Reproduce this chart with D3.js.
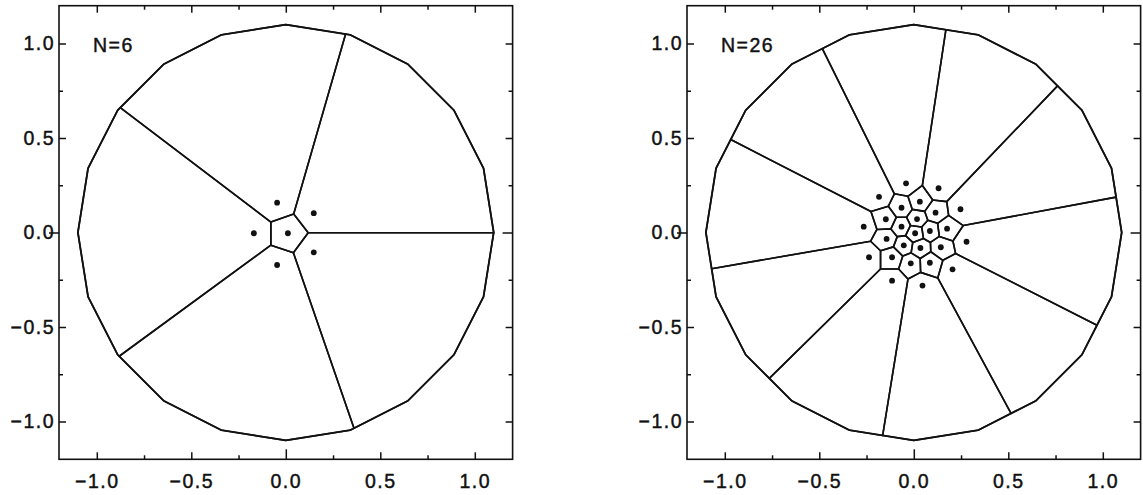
<!DOCTYPE html>
<html>
<head>
<meta charset="utf-8">
<script src="https://cdn.jsdelivr.net/npm/d3@7"></script>
<style>
  html, body { margin: 0; padding: 0; background: #fff; }
  svg { display: block; }
  text { font-family: "Liberation Sans", Arial, sans-serif; font-size: 19.5px; fill: #111; stroke: #111; stroke-width: 0.45px; letter-spacing: 1.5px; }
</style>
</head>
<body>
<svg id="chart" width="1143" height="495"></svg>
<script>
// tick values, same on both axes of both panels
const majorTicks = [-1.0, -0.5, 0.0, 0.5, 1.0];
const minorTicks = [-0.75, -0.25, 0.25, 0.75];
const axisDomain = [-1.2, 1.2];

// the confining boundary: regular 20-gon of radius 1.1
const boundaryRadius = 1.1;
const boundarySides = 20;

const panelLabels = ['N=6', 'N=26'];

// particle positions
const pointsN6 = [
  [-0.046, 0.158], [0.148, 0.102], [-0.169, -0.004],
  [0.011, -0.004], [0.148, -0.105], [-0.046, -0.172]
];

const pointsN26 = [
  // outer ring
  [-0.041, 0.260], [0.131, 0.234], [-0.184, 0.189], [0.247, 0.123], [-0.265, 0.031],
  [0.279, -0.049], [-0.237, -0.131], [0.205, -0.195], [-0.115, -0.255], [0.046, -0.281],
  // inner cluster
  [-0.065, 0.131], [0.032, 0.163], [0.115, 0.105], [-0.148, 0.070], [0.017, 0.071],
  [-0.065, 0.031], [0.176, 0.020], [0.007, -0.004], [0.085, 0.008], [-0.144, -0.034],
  [-0.053, -0.068], [0.035, -0.082], [0.143, -0.078], [-0.115, -0.131], [-0.016, -0.163],
  [0.085, -0.160]
];

var svg = d3.select('#chart');
var fmt = d3.format('.1f');

var boundary = d3.range(boundarySides).map(function(k) {
  var a = 2 * Math.PI * k / boundarySides;
  return [boundaryRadius * Math.cos(a), boundaryRadius * Math.sin(a)];
});

// Sutherland-Hodgman against the convex (ccw) boundary
function intersect(s, e, a, b) {
  var d1x = e[0] - s[0], d1y = e[1] - s[1];
  var d2x = b[0] - a[0], d2y = b[1] - a[1];
  var t = ((a[0] - s[0]) * d2y - (a[1] - s[1]) * d2x) / (d1x * d2y - d1y * d2x);
  return [s[0] + t * d1x, s[1] + t * d1y];
}

function clipPolygon(subject, clip) {
  var output = subject;
  for (var i = 0; i < clip.length && output.length; i++) {
    var a = clip[i], b = clip[(i + 1) % clip.length];
    var inside = function(p) {
      return (b[0] - a[0]) * (p[1] - a[1]) - (b[1] - a[1]) * (p[0] - a[0]) >= 0;
    };
    var input = output;
    output = [];
    var s = input[input.length - 1];
    input.forEach(function(e) {
      if (inside(e)) {
        if (!inside(s)) output.push(intersect(s, e, a, b));
        output.push(e);
      } else if (inside(s)) {
        output.push(intersect(s, e, a, b));
      }
      s = e;
    });
  }
  return output;
}

function drawPanel(left, top, size, points, label) {
  var x = d3.scaleLinear().domain(axisDomain).range([left, left + size]);
  var y = d3.scaleLinear().domain(axisDomain).range([top + size, top]);
  var g = svg.append('g');

  // voronoi cells
  var voronoi = d3.Delaunay.from(points).voronoi([-1.5, -1.5, 1.5, 1.5]);
  var line = d3.line()
    .x(function(d) { return x(d[0]); })
    .y(function(d) { return y(d[1]); });

  points.forEach(function(p, i) {
    var cell = voronoi.cellPolygon(i);
    if (!cell) return;
    var clipped = clipPolygon(cell.slice(0, -1), boundary);
    g.append('path')
      .attr('d', line(clipped) + 'Z')
      .attr('fill', 'none')
      .attr('stroke', '#111')
      .attr('stroke-width', 1.6)
      .attr('stroke-linejoin', 'round');
  });

  g.append('path')
    .attr('d', line(boundary) + 'Z')
    .attr('fill', 'none')
    .attr('stroke', '#111')
    .attr('stroke-width', 1.8)
    .attr('stroke-linejoin', 'round');

  g.selectAll('circle.pt')
    .data(points)
    .enter().append('circle')
    .attr('class', 'pt')
    .attr('cx', function(d) { return x(d[0]); })
    .attr('cy', function(d) { return y(d[1]); })
    .attr('r', 2.9)
    .attr('fill', '#111');

  // frame
  g.append('rect')
    .attr('x', left).attr('y', top)
    .attr('width', size).attr('height', size)
    .attr('fill', 'none')
    .attr('stroke', '#111')
    .attr('stroke-width', 1.6);

  // axes, ticks pointing inwards on all four sides
  function addAxis(axis, transform, values, len, labels, zeroAttr) {
    var a = g.append('g')
      .attr('transform', transform)
      .call(axis.tickValues(values).tickSize(-len).tickPadding(labels ? 15 : 0)
        .tickFormat(labels ? fmt : ''));
    a.select('.domain').remove();
    a.selectAll('.tick line').attr('stroke', '#111').attr('stroke-width', 1.5);
    if (zeroAttr) {
      a.selectAll('.tick line').filter(function(d) { return d === 0; }).attr(zeroAttr, -10);
    }
    return a;
  }

  addAxis(d3.axisBottom(x), 'translate(0,' + (top + size) + ')', majorTicks, 7, true, 'y2');
  addAxis(d3.axisBottom(x), 'translate(0,' + (top + size) + ')', minorTicks, 4, false);
  addAxis(d3.axisTop(x), 'translate(0,' + top + ')', majorTicks, 7, false);
  addAxis(d3.axisTop(x), 'translate(0,' + top + ')', minorTicks, 4, false);
  var yl = addAxis(d3.axisLeft(y), 'translate(' + left + ',0)', majorTicks, 7, true, 'x2');
  yl.selectAll('.tick text').attr('x', -4);
  addAxis(d3.axisLeft(y), 'translate(' + left + ',0)', minorTicks, 4, false);
  addAxis(d3.axisRight(y), 'translate(' + (left + size) + ',0)', majorTicks, 7, false, 'x2');
  addAxis(d3.axisRight(y), 'translate(' + (left + size) + ',0)', minorTicks, 4, false);

  g.append('text')
    .attr('x', left + 34)
    .attr('y', top + 46)
    .text(label);
}

drawPanel(59, 5.7, 453.6, pointsN6, panelLabels[0]);
drawPanel(687, 5.7, 453.6, pointsN26, panelLabels[1]);
</script>
</body>
</html>
